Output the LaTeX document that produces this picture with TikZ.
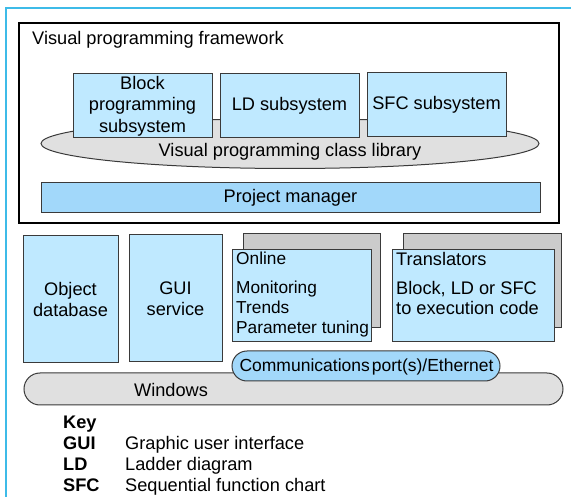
\documentclass[tikz,border=0pt]{standalone}
\usepackage{fontspec}
\setmainfont{Liberation Sans}
\usetikzlibrary{shapes.geometric}
\definecolor{lblue}{HTML}{BFE9FF}
\definecolor{mblue}{HTML}{A2D8FA}
\definecolor{lgray}{HTML}{E0E0E0}
\definecolor{sgray}{HTML}{CBCBCB}
\definecolor{frameblue}{HTML}{3DBBE8}
\definecolor{edge}{HTML}{3A3A3A}
\tikzset{
  txt/.style={font=\fontsize{18.2}{21.5}\selectfont, inner sep=0pt},
  txts/.style={font=\fontsize{17.3}{20}\selectfont, inner sep=0pt},
  keyb/.style={font=\fontsize{18.2}{21.5}\selectfont\bfseries, inner sep=0pt, anchor=base west},
  keyt/.style={font=\fontsize{18.2}{21.5}\selectfont, inner sep=0pt, anchor=base west},
  sub/.style={draw=edge, line width=1pt, fill=lblue, rectangle, inner sep=0pt, align=center,
    font=\fontsize{18.2}{21.5}\selectfont},
  darkbox/.style={sub, fill=mblue},
  shadowbox/.style={draw=edge, line width=1pt, fill=sgray},
  pill/.style={draw=edge, line width=1pt, rounded corners=15pt},
}
\begin{document}
\begin{tikzpicture}[x=1pt,y=-1pt]
\useasboundingbox (0,0) rectangle (571,497);
% outer frame lines
\draw[frameblue, line width=1.6pt] (6,497) -- (6,8) -- (571,8);
% framework
\draw[line width=2.2pt] (19,23) rectangle (559,223);
\node[txt, anchor=base west] (title) at (32,45) {Visual programming framework};
% class library ellipse
\node[ellipse, draw=edge, line width=1pt, fill=lgray, minimum width=498, minimum height=50, inner sep=0pt] (lib) at (290,143.5) {};
\node[txt] (libtxt) at (290,152) {Visual programming class library};
% subsystems
\node[sub, minimum width=139, minimum height=64] (block) at (142.5,106) {Block\\programming\\subsystem};
\node[sub, minimum width=139, minimum height=64] (ld) at (289.5,106) {LD subsystem};
\node[sub, minimum width=139, minimum height=64] (sfc) at (436.5,105) {SFC subsystem};
% project manager
\node[darkbox, minimum width=499, minimum height=30] (pm) at (290.5,198) {Project manager};
% lower boxes
\node[sub, minimum width=95, minimum height=127] (odb) at (70.5,299.5) {Object\\database};
\node[sub, minimum width=93, minimum height=127] (gui) at (175.5,298.5) {GUI\\service};
% online
\draw[shadowbox] (243,234) rectangle (380,328);
\node[sub, minimum width=139, minimum height=92, anchor=north west] (online) at (232,249) {};
\node[txts, anchor=base west] (on1) at (236,265) {Online};
\node[txts, anchor=base west] (on2) at (236,294) {Monitoring};
\node[txts, anchor=base west] (on3) at (236,313.5) {Trends};
\node[txts, anchor=base west] (on4) at (236,333.5) {Parameter tuning};
% translators
\draw[shadowbox] (403,234) rectangle (561,328);
\node[sub, minimum width=162, minimum height=92, anchor=north west] (trans) at (392,249) {};
\node[txt, anchor=base west] (tr1) at (396,265.5) {Translators};
\node[txt, anchor=base west] (tr2) at (396,294.5) {Block, LD or SFC};
\node[txt, anchor=base west] (tr3) at (396,314.5) {to execution code};
% windows and comms
\draw[pill, fill=lgray, rounded corners=16pt] (24,373) rectangle (563,405);
\node[txt] (win) at (171,390) {Windows};
\draw[pill, fill=mblue] (232,351) rectangle (500,381);
\node[font=\fontsize{17.5}{20}\selectfont, inner sep=0pt] (comm) at (366.5,366.5) {Communications\hspace{2pt}port(s)/Ethernet};
% key
\node[keyb] (key) at (63,428.5) {Key};
\node[keyb] (k1) at (63,449.5) {GUI};
\node[keyt] (d1) at (125,449.5) {Graphic user interface};
\node[keyb] (k2) at (63,470.5) {LD};
\node[keyt] (d2) at (125,470.5) {Ladder diagram};
\node[keyb] (k3) at (63,491.5) {SFC};
\node[keyt] (d3) at (125,491.5) {Sequential function chart};
\end{tikzpicture}
\end{document}
